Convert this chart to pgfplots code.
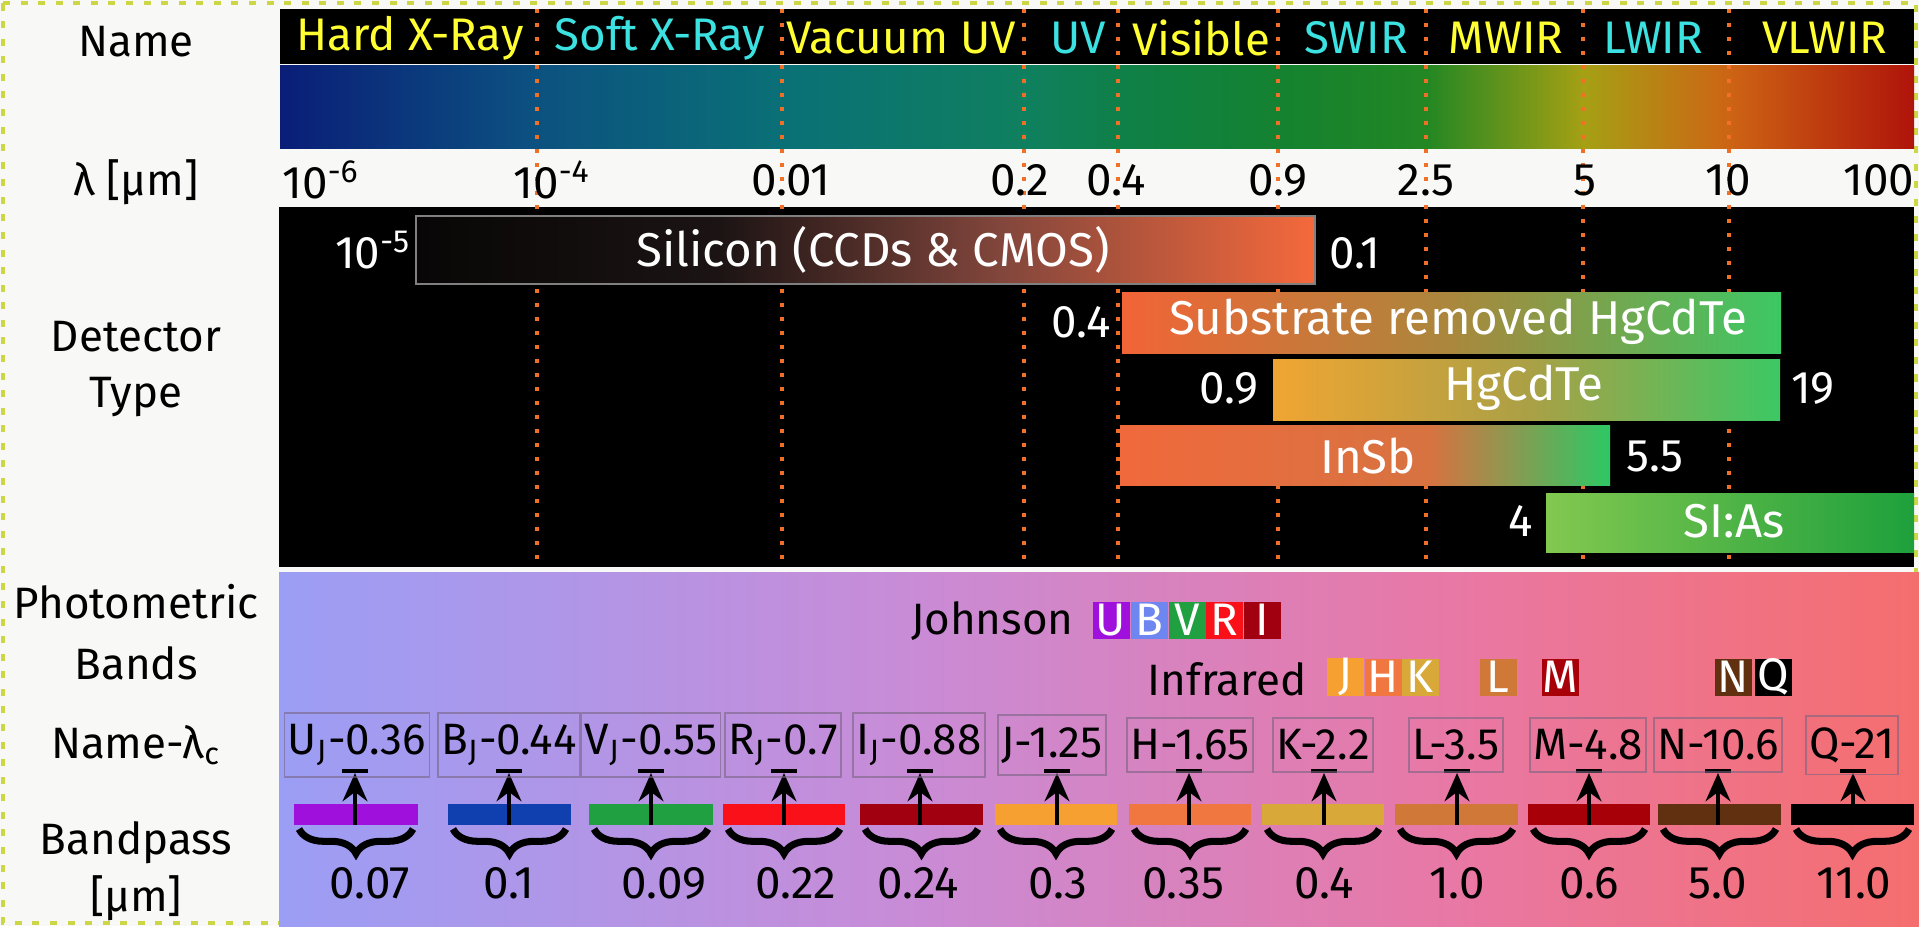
\documentclass[border=0pt]{standalone}
\usepackage{fontspec}
\setmainfont{Fira Sans}
\usepackage{pgfplots}
\pgfplotsset{compat=1.18}
\usetikzlibrary{decorations.pathreplacing,arrows.meta}

\definecolor{canvas}{RGB}{248,248,246}
\definecolor{borderc}{RGB}{205,215,70}
\definecolor{dotc}{RGB}{240,112,40}
\definecolor{nameyel}{RGB}{255,255,50}
\definecolor{namecyan}{RGB}{60,225,225}
% spectrum stops
\definecolor{sA}{RGB}{10,30,120}
\definecolor{sB}{RGB}{12,82,128}
\definecolor{sC}{RGB}{10,112,118}
\definecolor{sD}{RGB}{15,128,95}
\definecolor{sE}{RGB}{15,128,72}
\definecolor{sF}{RGB}{20,130,48}
\definecolor{sG}{RGB}{35,135,35}
\definecolor{sH}{RGB}{165,160,20}
\definecolor{sI}{RGB}{205,100,20}
\definecolor{sJ}{RGB}{175,20,10}
% photometric background
\definecolor{pA}{RGB}{155,158,245}
\definecolor{pB}{RGB}{200,140,215}
\definecolor{pC}{RGB}{232,120,165}
\definecolor{pD}{RGB}{245,110,110}
% detector bars
\definecolor{siA}{RGB}{8,6,6}
\definecolor{siB}{RGB}{28,20,20}
\definecolor{siC}{RGB}{130,70,60}
\definecolor{siD}{RGB}{245,105,60}
\definecolor{subA}{RGB}{242,100,55}
\definecolor{subB}{RGB}{170,135,60}
\definecolor{subC}{RGB}{60,200,100}
\definecolor{hgA}{RGB}{240,165,50}
\definecolor{hgB}{RGB}{170,160,70}
\definecolor{hgC}{RGB}{60,200,100}
\definecolor{inA}{RGB}{240,105,60}
\definecolor{inB}{RGB}{215,115,65}
\definecolor{inC}{RGB}{45,200,100}
\definecolor{saA}{RGB}{130,200,80}
\definecolor{saB}{RGB}{30,160,60}
% band colours
\definecolor{bU}{RGB}{160,16,220}
\definecolor{bB}{RGB}{16,64,176}
\definecolor{bBl}{RGB}{110,134,240}
\definecolor{bV}{RGB}{32,160,64}
\definecolor{bR}{RGB}{250,16,24}
\definecolor{bI}{RGB}{160,0,16}
\definecolor{bJ}{RGB}{245,160,48}
\definecolor{bH}{RGB}{240,120,64}
\definecolor{bK}{RGB}{216,168,56}
\definecolor{bL}{RGB}{208,120,56}
\definecolor{bM}{RGB}{168,0,8}
\definecolor{bN}{RGB}{96,48,16}
\definecolor{bQ}{RGB}{0,0,0}
\definecolor{boxc}{RGB}{120,100,130}

\newcommand{\fs}[1]{\fontsize{#1}{#1}\selectfont}
% shaded rectangle: x1 x2 y1 y2 leftcolor rightcolor
\newcommand{\shrect}[6]{\addplot[mark=none,draw=none,left color=#5,right color=#6] coordinates {(#1,#3) (#2,#3) (#2,#4) (#1,#4)} -- cycle;}
% band: left right arrowx colour label labelx bandpass bandpassx
\newcommand{\band}[8]{%
  \addplot[mark=none,draw=none,fill=#4] coordinates {(#1,804) (#2,804) (#2,825) (#1,825)} -- cycle;
  \draw[line width=1.4pt,-{Stealth[length=8pt,width=7pt]}] (axis cs:#3,825) -- (axis cs:#3,773);
  \draw[line width=1.4pt] (axis cs:#3-13,771) -- (axis cs:#3+13,771);
  \draw[line width=2pt,decorate,decoration={brace,mirror,amplitude=7pt}] (axis cs:#1+5,829) -- (axis cs:#2-5,829);
  \node[font=\fs{12.5},draw=boxc,draw opacity=0.6,line width=0.5pt,inner xsep=1pt,minimum height=0.48cm] at (axis cs:#6,745) {#5};
  \node[font=\fs{13}] at (axis cs:#8,883) {#7};
}
\newcommand{\lbox}[4]{\node[fill=#2,text=white,font=\fs{13},minimum width=0.37cm,minimum height=0.37cm,inner sep=0pt] at (axis cs:#3,#4) {#1};}

\begin{document}
\begin{tikzpicture}
\begin{axis}[name=ax,width=19.19cm,height=9.26cm,scale only axis,
  xmin=0,xmax=1919,ymin=0,ymax=926,y dir=reverse,hide axis,clip=false]

% canvas and border
\addplot[mark=none,fill=canvas,draw=none] coordinates {(0,0) (1919,0) (1919,926) (0,926)} -- cycle;
\addplot[mark=none,draw=borderc,line width=1.2pt,dash pattern=on 2pt off 3pt] coordinates {(3,3) (1916,3) (1916,923) (3,923)} -- cycle;

% name bar and spectrum
\addplot[mark=none,fill=black,draw=none] coordinates {(280,9) (1914,9) (1914,64) (280,64)} -- cycle;
\shrect{280}{538}{66}{149}{sA}{sB}
\shrect{537}{783}{66}{149}{sB}{sC}
\shrect{782}{1025}{66}{149}{sC}{sD}
\shrect{1024}{1119}{66}{149}{sD}{sE}
\shrect{1118}{1279}{66}{149}{sE}{sF}
\shrect{1278}{1427}{66}{149}{sF}{sG}
\shrect{1426}{1584}{66}{149}{sG}{sH}
\shrect{1583}{1730}{66}{149}{sH}{sI}
\shrect{1729}{1914}{66}{149}{sI}{sJ}

% detector panel
\addplot[mark=none,fill=black,draw=none] coordinates {(279,207) (1914,207) (1914,567) (279,567)} -- cycle;
% photometric panel
\shrect{279}{901}{572}{926}{pA}{pB}
\shrect{900}{1451}{572}{926}{pB}{pC}
\shrect{1450}{1919}{572}{926}{pC}{pD}

% dotted band boundaries
\pgfplotsinvokeforeach{537,782,1024,1118,1278,1426,1583,1729}{
  \addplot[mark=none,draw=dotc,line width=0.9pt,dash pattern=on 0.04cm off 0.1cm] coordinates {(#1,9) (#1,562)};
}

% detector bars
\shrect{416}{721}{216}{284}{siA}{siB}
\shrect{720}{1001}{216}{284}{siB}{siC}
\shrect{1000}{1315}{216}{284}{siC}{siD}
\addplot[mark=none,draw=gray,line width=0.6pt] coordinates {(416,216) (1315,216) (1315,284) (416,284)} -- cycle;
\shrect{1122}{1451}{292}{353}{subA}{subB}
\shrect{1450}{1781}{292}{353}{subB}{subC}
\shrect{1273}{1531}{359}{420}{hgA}{hgB}
\shrect{1530}{1780}{359}{420}{hgB}{hgC}
\shrect{1120}{1431}{425}{485}{inA}{inB}
\shrect{1430}{1610}{425}{485}{inB}{inC}
\shrect{1546}{1914}{493}{552}{saA}{saB}

% header texts
\node[font=\fs{13},text=nameyel] at (axis cs:410,38) {Hard X-Ray};
\node[font=\fs{13},text=namecyan] at (axis cs:660,38) {Soft X-Ray};
\node[font=\fs{13},text=nameyel] at (axis cs:901,38) {Vacuum UV};
\node[font=\fs{13},text=namecyan] at (axis cs:1078,38) {UV};
\node[font=\fs{13},text=nameyel] at (axis cs:1201,38) {Visible};
\node[font=\fs{13},text=namecyan] at (axis cs:1356,38) {SWIR};
\node[font=\fs{13},text=nameyel] at (axis cs:1506,38) {MWIR};
\node[font=\fs{13},text=namecyan] at (axis cs:1653,38) {LWIR};
\node[font=\fs{13},text=nameyel] at (axis cs:1825,38) {VLWIR};

% wavelength labels
\node[font=\fs{13}] at (axis cs:321,180) {10\textsuperscript{-6}};
\node[font=\fs{13}] at (axis cs:552,180) {10\textsuperscript{-4}};
\node[font=\fs{13}] at (axis cs:791,180) {0.01};
\node[font=\fs{13}] at (axis cs:1020,180) {0.2};
\node[font=\fs{13}] at (axis cs:1116,180) {0.4};
\node[font=\fs{13}] at (axis cs:1278,180) {0.9};
\node[font=\fs{13}] at (axis cs:1426,180) {2.5};
\node[font=\fs{13}] at (axis cs:1585,180) {5};
\node[font=\fs{13}] at (axis cs:1728,180) {10};
\node[font=\fs{13}] at (axis cs:1879,180) {100};

% left column labels
\node[font=\fs{12.5}] at (axis cs:136,42) {Name};
\node[font=\fs{12.5}] at (axis cs:136,182) {λ [μm]};
\node[font=\fs{12.5}] at (axis cs:136,337) {Detector};
\node[font=\fs{12.5}] at (axis cs:136,397) {Type};
\node[font=\fs{12.5}] at (axis cs:136,602) {Photometric};
\node[font=\fs{12.5}] at (axis cs:136,663) {Bands};
\node[font=\fs{12.5}] at (axis cs:136,745) {Name-λ\textsubscript{c}};
\node[font=\fs{12.5}] at (axis cs:136,843) {Bandpass};
\node[font=\fs{12.5}] at (axis cs:136,898) {[μm]};

% detector texts
\node[font=\fs{13.5},text=white] at (axis cs:873,250) {Silicon (CCDs \& CMOS)};
\node[font=\fs{13},text=white] at (axis cs:373,250) {10\textsuperscript{-5}};
\node[font=\fs{13},text=white] at (axis cs:1355,253) {0.1};
\node[font=\fs{13.5},text=white] at (axis cs:1458,322) {Substrate removed HgCdTe};
\node[font=\fs{13},text=white] at (axis cs:1081,322) {0.4};
\node[font=\fs{13.5},text=white] at (axis cs:1524,388) {HgCdTe};
\node[font=\fs{13},text=white] at (axis cs:1229,388) {0.9};
\node[font=\fs{13},text=white] at (axis cs:1813,388) {19};
\node[font=\fs{13.5},text=white] at (axis cs:1368,456) {InSb};
\node[font=\fs{13},text=white] at (axis cs:1655,456) {5.5};
\node[font=\fs{13.5},text=white] at (axis cs:1734,521) {SI:As};
\node[font=\fs{13},text=white] at (axis cs:1521,521) {4};

% Johnson and infrared legend
\node[font=\fs{12.5},anchor=east] at (axis cs:1086,621) {Johnson};
\lbox{U}{bU}{1111}{620}
\lbox{B}{bBl}{1149}{620}
\lbox{V}{bV}{1187}{620}
\lbox{R}{bR}{1224}{620}
\lbox{I}{bI}{1262}{620}
\node[font=\fs{12.5},anchor=east] at (axis cs:1319,679) {Infrared};
\lbox{J}{bJ}{1345}{677}
\lbox{H}{bH}{1383}{677}
\lbox{K}{bK}{1420}{677}
\lbox{L}{bL}{1498}{677}
\lbox{M}{bM}{1560}{677}
\lbox{N}{bN}{1733}{677}
\lbox{Q}{bQ}{1773}{677}

% photometric bands
\band{294}{418}{355}{bU}{U\textsubscript{J}-0.36}{357}{0.07}{370}
\band{448}{571}{509}{bB}{B\textsubscript{J}-0.44}{509}{0.1}{509}
\band{589}{713}{651}{bV}{V\textsubscript{J}-0.55}{651}{0.09}{664}
\band{723}{845}{784}{bR}{R\textsubscript{J}-0.7}{783}{0.22}{796}
\band{860}{983}{920}{bI}{I\textsubscript{J}-0.88}{919}{0.24}{918}
\band{995}{1117}{1057}{bJ}{J-1.25}{1052}{0.3}{1058}
\band{1129}{1251}{1189}{bH}{H-1.65}{1190}{0.35}{1183}
\band{1262}{1384}{1324}{bK}{K-2.2}{1323}{0.4}{1324}
\band{1395}{1518}{1457}{bL}{L-3.5}{1456}{1.0}{1457}
\band{1528}{1650}{1589}{bM}{M-4.8}{1588}{0.6}{1589}
\band{1658}{1781}{1718}{bN}{N-10.6}{1718}{5.0}{1718}
\band{1791}{1914}{1853}{bQ}{Q-21}{1852}{11.0}{1854}

\end{axis}
\pgfresetboundingbox
\path (ax.south west) rectangle (ax.north east);
\end{tikzpicture}
\end{document}
